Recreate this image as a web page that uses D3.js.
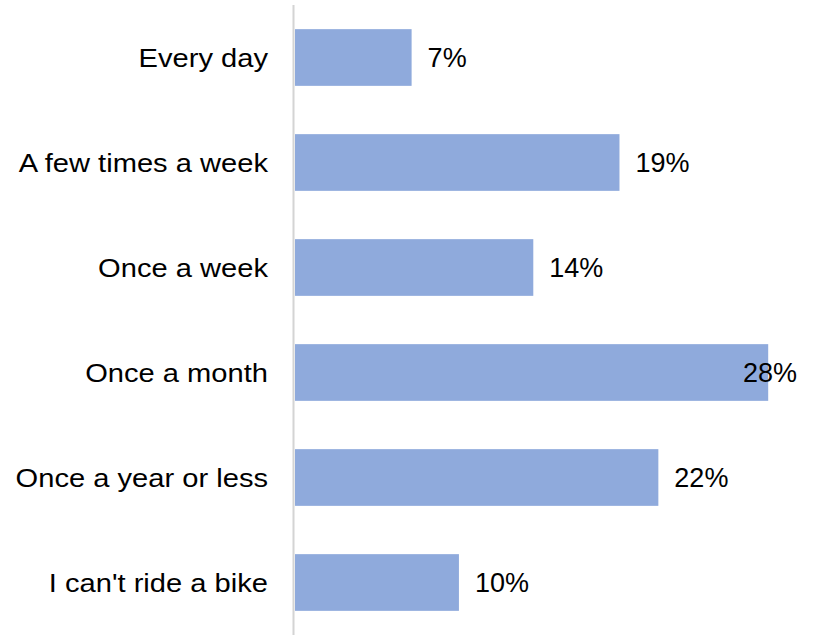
<!DOCTYPE html>
<meta charset="utf-8">
<style>

body {
  margin: 0;
  background: #fff;
}

text {
  font-family: "Liberation Sans", Arial, sans-serif;
  font-size: 26px;
  fill: #000;
}

.values text {
  font-size: 27px;
}

</style>
<svg width="825" height="635"></svg>
<script src="https://d3js.org/d3.v7.min.js"></script>
<script>

var categories = ["Every day", "A few times a week", "Once a week", "Once a month", "Once a year or less", "I can't ride a bike"];
var values = [6.9, 19.2, 14.1, 28.0, 21.5, 9.7];

var data = categories.map(function(c, i) { return {name: c, value: values[i]}; });

var svg = d3.select("svg"),
    width = +svg.attr("width"),
    height = +svg.attr("height");

var x0 = 295,
    labelEdge = 797;

var x = d3.scaleLinear()
    .domain([0, 30])
    .range([x0, x0 + 507]);

var y = d3.scaleBand()
    .domain(categories)
    .range([5, height])
    .paddingInner(0.46)
    .paddingOuter(0.23);

// bars
svg.append("g")
  .selectAll("rect")
  .data(data)
  .enter().append("rect")
    .attr("x", x(0))
    .attr("y", function(d) { return y(d.name); })
    .attr("width", function(d) { return x(d.value) - x(0); })
    .attr("height", y.bandwidth())
    .attr("fill", "#8FAADC");

// category axis line
svg.append("line")
    .attr("x1", 293.5)
    .attr("x2", 293.5)
    .attr("y1", 5)
    .attr("y2", height)
    .attr("stroke", "#d4d4d4")
    .attr("stroke-width", 2);

// category labels (slightly wide lettering in the original)
svg.append("g")
  .selectAll("text")
  .data(data)
  .enter().append("text")
    .attr("transform", function(d) {
      return "translate(268," + (y(d.name) + y.bandwidth() / 2) + ") scale(1.12,1)";
    })
    .attr("dy", "0.35em")
    .attr("text-anchor", "end")
    .text(function(d) { return d.name; });

// value labels
svg.append("g")
    .attr("class", "values")
  .selectAll("text")
  .data(data)
  .enter().append("text")
    .attr("x", function(d) { return x(d.value) + 16; })
    .attr("y", function(d) { return y(d.name) + y.bandwidth() / 2; })
    .attr("dy", "0.35em")
    .text(function(d) { return Math.round(d.value) + "%"; })
    .each(function() {
      var t = d3.select(this),
          w = this.getComputedTextLength();
      if (+t.attr("x") + w > labelEdge) {
        t.attr("x", labelEdge).attr("text-anchor", "end");
      }
    });

</script>
